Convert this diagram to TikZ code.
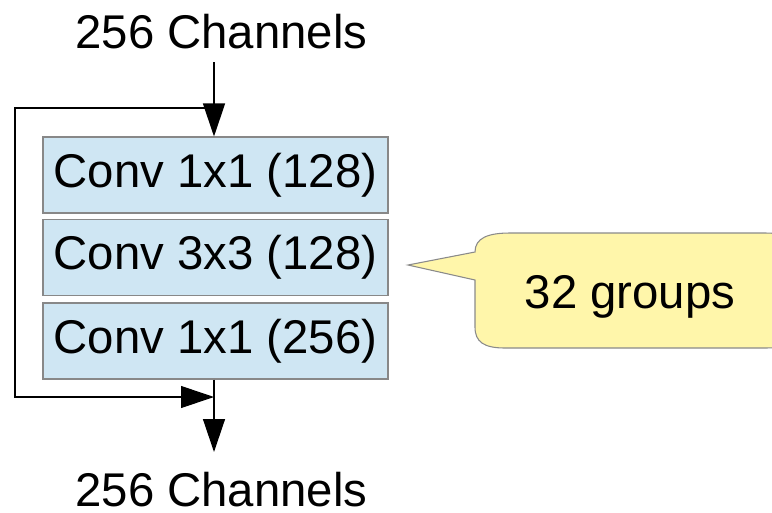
\documentclass[tikz,border=0pt]{standalone}
\usepackage{fontspec}
\setmainfont{Liberation Sans}
\usetikzlibrary{arrows.meta}
\definecolor{boxfill}{HTML}{CFE6F3}
\definecolor{boxline}{HTML}{888888}
\definecolor{callfill}{HTML}{FFF6AA}
\definecolor{callline}{HTML}{8A8A8A}
\tikzset{
  convbox/.style={draw=boxline, line width=0.8pt, fill=boxfill, minimum width=258.75pt, minimum height=57pt, inner sep=0pt, font=\fontsize{35.5pt}{40pt}\selectfont},
  label/.style={inner sep=0pt, anchor=base, font=\fontsize{35.5pt}{40pt}\selectfont},
  flow/.style={line width=1pt, -{Triangle[length=24.75pt,width=16.5pt]}},
  skip/.style={line width=0.8pt, -{Triangle[length=24.75pt,width=16.5pt]}},
}
\begin{document}
\begin{tikzpicture}[x=0.75pt,y=-0.75pt]
\useasboundingbox (0,0) rectangle (772,512);
% callout
\draw[draw=callline, line width=0.8pt, fill=callfill]
  (475,280) -- (408,265) -- (475,252)
  .. controls (475,238) and (488,233) .. (510,233) -- (765,233)
  .. controls (790,233) and (800,240) .. (800,255) -- (800,328)
  .. controls (800,342) and (790,348) .. (765,348) -- (505,348)
  .. controls (484,348) and (475,342) .. (475,327) -- cycle;
\node[inner sep=0pt, anchor=base, font=\fontsize{35.5pt}{40pt}\selectfont] (grp) at (630,308) {32 groups};
% boxes
\node[convbox] (b1) at (215.5,175) {Conv 1x1 (128)};
\node[convbox] (b2) at (215.5,257.5) {Conv 3x3 (128)};
\node[convbox] (b3) at (215.5,341) {Conv 1x1 (256)};
% labels
\node[label] (tin) at (221.5,48) {256 Channels};
\node[label] (tout) at (221.5,506) {256 Channels};
% coordinates
\coordinate (c0) at (214,62);
\coordinate (s1) at (214,108);
\coordinate (s2) at (15,108);
\coordinate (s3) at (15,397);
\coordinate (s4) at (214,397);
\coordinate (c5) at (214,452);
% connectors
\draw[flow] (c0) -- (c0 |- b1.north);
\draw[skip] (s1) -- (s2) -- (s3) -- (s4);
\draw[flow] (c0 |- b3.south) -- (c5);
\end{tikzpicture}
\end{document}
